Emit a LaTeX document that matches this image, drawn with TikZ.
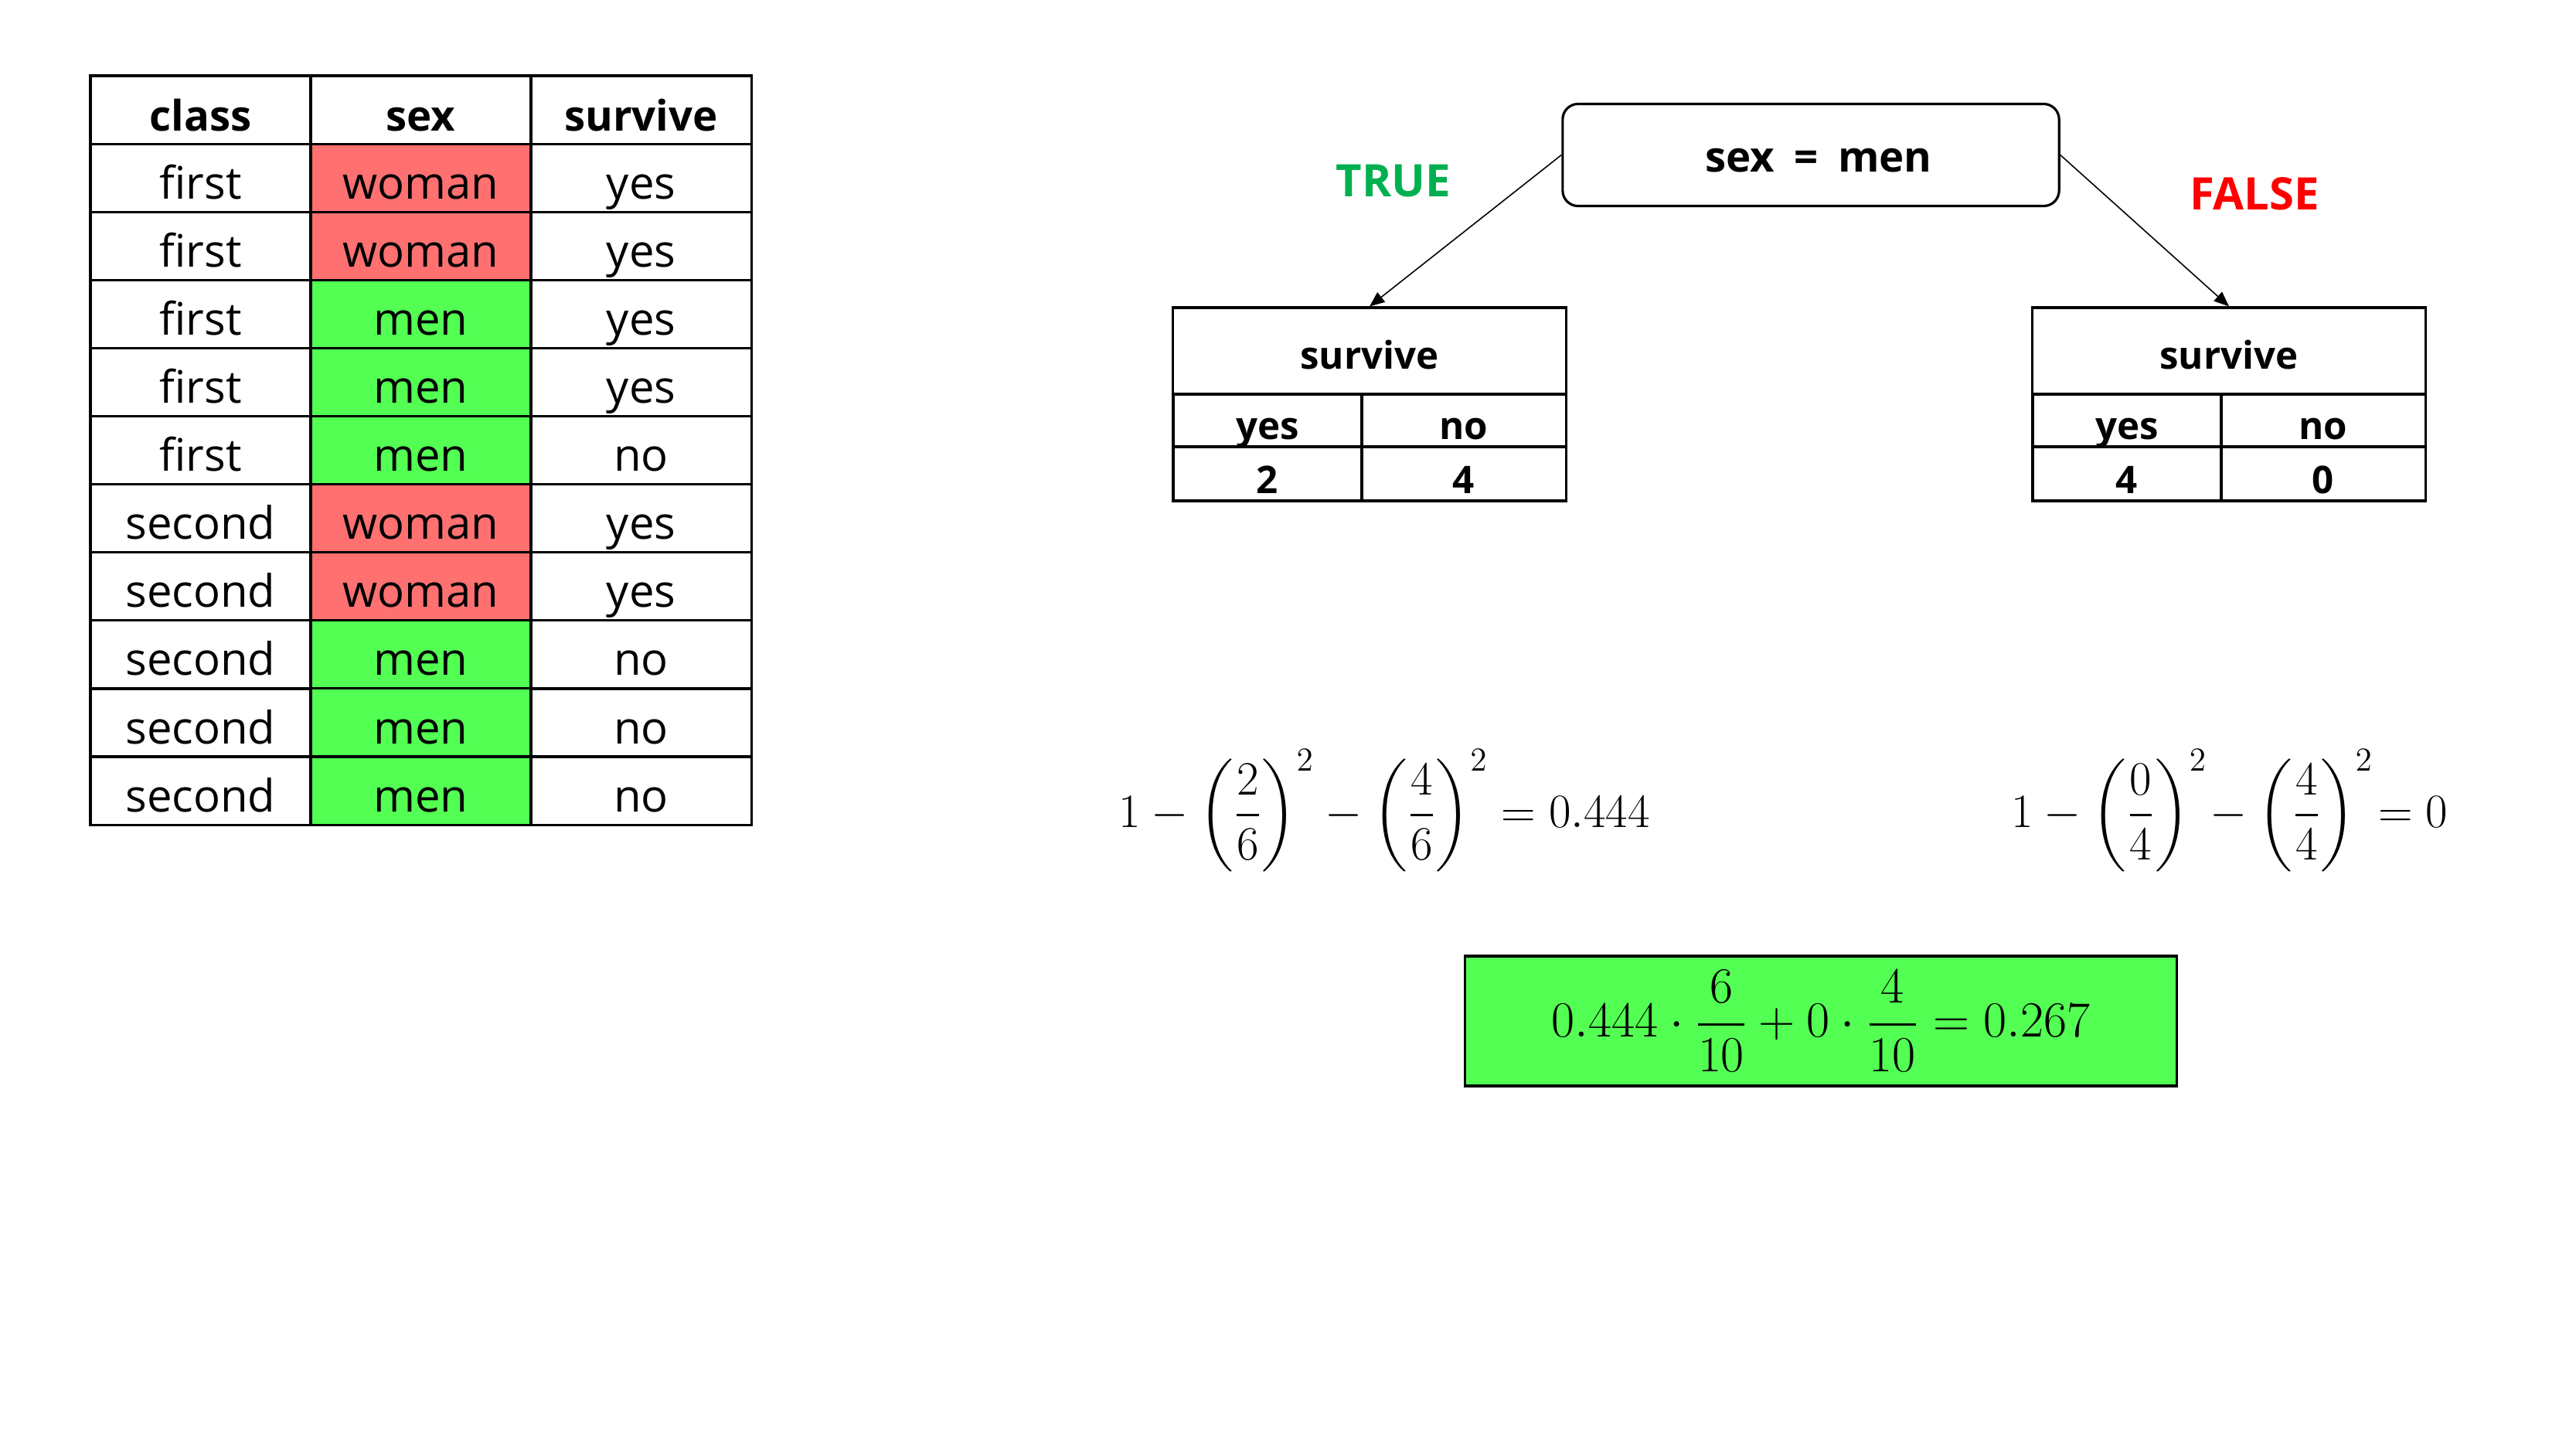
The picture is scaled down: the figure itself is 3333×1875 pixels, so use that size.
\RequirePackage{fix-cm}
\documentclass[tikz,border=0pt]{standalone}
\usepackage{amsmath}
\usepackage{fontspec}
\setmainfont{Open Sans}
\usetikzlibrary{arrows.meta}
\definecolor{wred}{HTML}{FF7171}
\definecolor{mgreen}{HTML}{52FF52}
\definecolor{tgreen}{HTML}{00B050}
\definecolor{fred}{HTML}{FF0000}
\begin{document}
\begin{tikzpicture}[x=0.01cm,y=-0.01cm,
  cell/.style={draw,line width=0.9pt,minimum width=2.85cm,minimum height=0.881cm,inner sep=0pt,
    text height=0.711cm,text depth=0.17cm,font=\fontsize{16.5}{19}\selectfont},
  hcell/.style={cell,font=\bfseries\fontsize{15.5}{18}\selectfont},
  tbox/.style={draw,line width=0.9pt,inner sep=0pt,font=\bfseries\fontsize{14}{17}\selectfont},
  thead/.style={tbox,minimum width=5.08cm,minimum height=1.12cm,text height=0.79cm,text depth=0.33cm},
  tlab/.style={tbox,minimum height=0.68cm,text height=0.58cm,text depth=0.10cm},
  tnum/.style={tbox,minimum height=0.70cm,text height=0.60cm,text depth=0.10cm},
  root/.style={draw,line width=0.9pt,rounded corners=5.7pt,minimum width=6.42cm,minimum height=1.32cm,
    inner sep=0pt,text height=0.88cm,text depth=0.44cm,font=\bfseries\fontsize{15.5}{18}\selectfont},
  branch/.style={font=\bfseries\fontsize{16.5}{19}\selectfont},
  arr/.style={line width=0.45pt,-{Triangle[length=5.5pt,width=4.5pt]}},
  mathtxt/.style={inner sep=0pt,font=\fontsize{17.6}{21}\selectfont},
  result/.style={draw,line width=0.9pt,fill=mgreen,minimum width=9.2cm,minimum height=1.68cm,inner sep=0pt,
    font=\fontsize{18.6}{22}\selectfont}
]
\fill[white] (0,0) rectangle (3333,1875);
\useasboundingbox (0,0) rectangle (3333,1875);

% data table
\node[hcell] (h1) at (259.5,142.05) {class};
\node[hcell] (h2) at (544.5,142.05) {sex};
\node[hcell] (h3) at (829.5,142.05) {survive};
\foreach [count=\i] \a/\b/\c/\d in {first/woman/yes/wred, first/woman/yes/wred, first/men/yes/mgreen,
  first/men/yes/mgreen, first/men/no/mgreen, second/woman/yes/wred, second/woman/yes/wred,
  second/men/no/mgreen, second/men/no/mgreen, second/men/no/mgreen}{
  \pgfmathsetmacro\yy{98+88.1*(\i+0.5)}
  \node[cell] (r\i a) at (259.5,\yy) {\a};
  \node[cell,fill=\d] (r\i b) at (544.5,\yy) {\b};
  \node[cell] (r\i c) at (829.5,\yy) {\c};
}

% root
\node[root] (root) at (2343,200.5) {\hspace{0.2cm}sex\hspace{0.47em}=\hspace{0.47em}men};

% left leaf table
\node[thead] (lt) at (1772,454) {survive};
\node[tlab,minimum width=2.44cm] (ly) at (1640,544) {yes};
\node[tlab,minimum width=2.64cm] (ln) at (1894,544) {no};
\node[tnum,minimum width=2.44cm] (lv1) at (1640,613) {2};
\node[tnum,minimum width=2.64cm] (lv2) at (1894,613) {4};

% right leaf table
\node[thead] (rt) at (2884,454) {survive};
\node[tlab,minimum width=2.44cm] (ry) at (2752,544) {yes};
\node[tlab,minimum width=2.64cm] (rn) at (3006,544) {no};
\node[tnum,minimum width=2.44cm] (rv1) at (2752,613) {4};
\node[tnum,minimum width=2.64cm] (rv2) at (3006,613) {0};

% branches
\draw[arr] (root.west) -- (lt.north);
\draw[arr] (root.east) -- (rt.north);
\node[branch,text=tgreen] (tl) at (1803,234) {TRUE};
\node[branch,text=fred] (fl) at (2917,251) {FALSE};

% gini formulas
\node[mathtxt,anchor=base] (gl) at (1791,1070)
  {$\displaystyle 1-\biggl(\frac{2}{6}\biggr)^{2}-\biggl(\frac{4}{6}\biggr)^{2}=0.444$};
\node[mathtxt,anchor=base] (gr) at (2885,1070)
  {$\displaystyle 1-\biggl(\frac{0}{4}\biggr)^{2}\!-\biggl(\frac{4}{4}\biggr)^{2}\!=0$};

% weighted result
\node[result] (res) at (2356,1321)
  {$\displaystyle 0.444\cdot\frac{6}{10}+0\cdot\frac{4}{10}=0.267$};
\end{tikzpicture}
\end{document}
